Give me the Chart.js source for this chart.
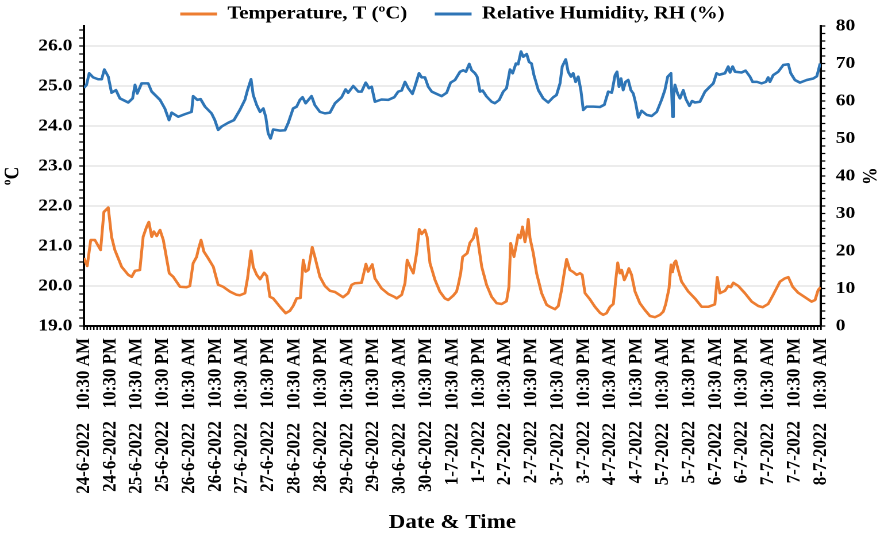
<!DOCTYPE html>
<html>
<head>
<meta charset="utf-8">
<title>Temperature and Relative Humidity</title>
<script src="https://cdn.jsdelivr.net/npm/chart.js@4.4.1/dist/chart.umd.min.js"></script>
<style>
  html, body { margin: 0; padding: 0; background: #fff; overflow: hidden; }
</style>
</head>
<body>
<!-- drawn 769 wide and stretched to 884: the original lettering is wider than it is tall -->
<canvas id="chart" width="769" height="540" style="width:884px;height:540px"></canvas>
<script>
// Logger readings, 24-6-2022 10:30 AM to 8-7-2022 10:30 AM
// x values are hours after the first reading

const tickDates = [
  '24-6-2022', '24-6-2022', '25-6-2022', '25-6-2022', '26-6-2022', '26-6-2022',
  '27-6-2022', '27-6-2022', '28-6-2022', '28-6-2022', '29-6-2022', '29-6-2022',
  '30-6-2022', '30-6-2022', '1-7-2022', '1-7-2022', '2-7-2022', '2-7-2022',
  '3-7-2022', '3-7-2022', '4-7-2022', '4-7-2022', '5-7-2022', '5-7-2022',
  '6-7-2022', '6-7-2022', '7-7-2022', '7-7-2022', '8-7-2022'
];
const tickTimes = [
  '10:30 AM', '10:30 PM', '10:30 AM', '10:30 PM', '10:30 AM', '10:30 PM',
  '10:30 AM', '10:30 PM', '10:30 AM', '10:30 PM', '10:30 AM', '10:30 PM',
  '10:30 AM', '10:30 PM', '10:30 AM', '10:30 PM', '10:30 AM', '10:30 PM',
  '10:30 AM', '10:30 PM', '10:30 AM', '10:30 PM', '10:30 AM', '10:30 PM',
  '10:30 AM', '10:30 PM', '10:30 AM', '10:30 PM', '10:30 AM'
];
const tempTicks = [19, 20, 21, 22, 23, 24, 25, 26];
const rhTicks = [0, 10, 20, 30, 40, 50, 60, 70, 80];

const tempHours = [
  0, 1.5, 3.1, 5.0, 7.6, 9.1, 11.1, 12.6, 14.1, 17.2,
  20.2, 21.8, 23.3, 25.5, 27.0, 28.6, 29.6, 30.9, 31.9, 33.2,
  34.7, 36.2, 38.9, 40.7, 43.8, 46.8, 48.3, 49.8, 51.4, 52.1,
  53.4, 54.7, 56.7, 59.0, 61.2, 63.5, 66.6, 69.6, 71.1, 73.4,
  74.6, 76.2, 77.2, 78.8, 80.3, 82.2, 83.4, 84.8, 86.3, 89.4,
  92.0, 93.9, 95.4, 97.0, 98.7, 100.0, 101.1, 102.3, 104.1, 105.3,
  107.6, 109.9, 112.2, 114.5, 118.2, 120.5, 122.1, 123.6, 126.6, 128.6,
  129.6, 131.5, 132.7, 135.7, 138.8, 141.5, 142.6, 144.9, 146.4, 147.4,
  148.7, 150.2, 151.7, 152.9, 154.0, 155.5, 156.5, 157.8, 160.1, 162.3,
  164.6, 166.1, 168.4, 169.9, 170.7, 171.8, 172.7, 174.8, 176.0, 177.5,
  178.8, 179.8, 181.4, 183.6, 185.9, 188.2, 190.5, 192.7, 193.8, 194.6,
  196.1, 197.3, 198.0, 199.0, 200.0, 201.1, 201.9, 202.6, 203.4, 204.9,
  206.4, 208.7, 211.0, 212.5, 214.8, 216.3, 217.8, 219.0, 220.1, 221.6,
  223.1, 224.7, 226.2, 227.2, 228.5, 230.7, 233.0, 235.3, 236.8, 238.3,
  239.9, 241.4, 242.5, 243.4, 244.4, 245.2, 246.4, 247.5, 248.5, 249.7,
  251.3, 253.5, 255.8, 258.1, 260.4, 262.7, 264.2, 265.3, 266.8, 267.7,
  268.4, 269.2, 269.9, 271.0, 272.5, 275.6, 278.6, 281.7, 284.7, 287.7,
  288.8, 290.0, 292.3, 293.8, 295.0, 296.1, 298.4, 301.4, 304.5, 307.5,
  309.5, 312.0, 314.3, 317.4, 319.6, 321.2, 323.2, 325.7, 328.8, 331.8,
  333.4, 334.8, 335.9
];
const tempValues = [
  20.7, 20.5, 21.15, 21.15, 20.9, 21.85, 21.96, 21.23, 20.9, 20.48,
  20.28, 20.23, 20.38, 20.4, 21.23, 21.48, 21.6, 21.23, 21.36, 21.25,
  21.4, 21.15, 20.32, 20.23, 19.98, 19.97, 20.0, 20.57, 20.73, 20.9,
  21.15, 20.86, 20.69, 20.48, 20.03, 19.98, 19.86, 19.78, 19.77, 19.82,
  20.19, 20.88, 20.48, 20.28, 20.17, 20.33, 20.25, 19.73, 19.69, 19.48,
  19.32, 19.38, 19.5, 19.69, 19.7, 20.65, 20.36, 20.4, 20.97, 20.73,
  20.23, 20.0, 19.88, 19.85, 19.72, 19.82, 20.03, 20.07, 20.08, 20.55,
  20.36, 20.54, 20.19, 19.94, 19.8, 19.73, 19.69, 19.78, 20.07, 20.65,
  20.48, 20.32, 20.82, 21.42, 21.3, 21.4, 21.23, 20.57, 20.15, 19.86,
  19.69, 19.65, 19.76, 19.86, 20.03, 20.32, 20.73, 20.82, 21.08, 21.19,
  21.44, 21.08, 20.48, 20.03, 19.73, 19.57, 19.55, 19.62, 19.98, 21.07,
  20.73, 21.07, 21.28, 21.2, 21.48, 21.1, 21.32, 21.67, 21.2, 20.82,
  20.32, 19.82, 19.53, 19.48, 19.42, 19.5, 19.9, 20.32, 20.67, 20.4,
  20.35, 20.28, 20.32, 20.28, 19.82, 19.67, 19.48, 19.33, 19.28, 19.32,
  19.48, 19.55, 20.15, 20.58, 20.32, 20.4, 20.15, 20.28, 20.44, 20.28,
  19.86, 19.57, 19.4, 19.25, 19.22, 19.28, 19.36, 19.55, 19.94, 20.53,
  20.35, 20.58, 20.63, 20.4, 20.11, 19.86, 19.69, 19.48, 19.48, 19.54,
  20.22, 19.82, 19.88, 20.0, 19.97, 20.08, 20.0, 19.82, 19.61, 19.5,
  19.47, 19.55, 19.78, 20.11, 20.19, 20.22, 19.98, 19.83, 19.72, 19.61,
  19.65, 19.9, 19.97
];

const rhHours = [
  0, 1.2, 2.4, 4.2, 6.5, 8.1, 9.3, 11.1, 12.6, 14.6,
  16.4, 20.2, 22.2, 23.3, 24.3, 26.3, 29.3, 30.9, 34.7, 36.9,
  38.8, 40.0, 43.0, 46.1, 49.1, 49.8, 51.7, 53.2, 55.2, 58.2,
  59.7, 61.2, 62.8, 65.8, 68.4, 71.1, 73.4, 74.6, 76.2, 77.2,
  78.8, 80.3, 81.8, 82.9, 84.0, 85.1, 86.3, 89.4, 91.7, 93.2,
  95.4, 97.0, 98.5, 99.7, 101.1, 103.8, 105.3, 107.6, 109.9, 112.2,
  114.5, 117.5, 119.3, 120.5, 122.8, 125.1, 126.6, 128.5, 130.0, 131.2,
  132.7, 135.7, 138.8, 141.5, 143.3, 144.9, 146.4, 147.9, 149.8, 150.9,
  152.8, 154.0, 155.5, 157.0, 158.6, 160.8, 163.1, 165.4, 167.2, 169.2,
  171.5, 173.0, 174.2, 175.7, 176.8, 178.3, 179.3, 180.6, 181.8, 183.6,
  185.9, 187.4, 189.4, 191.2, 192.7, 194.3, 195.5, 197.0, 198.0, 199.3,
  200.3, 201.9, 203.0, 204.1, 205.2, 207.2, 209.4, 211.7, 214.0, 215.5,
  217.1, 218.1, 219.7, 220.8, 222.1, 223.1, 224.2, 225.4, 226.6, 227.7,
  229.2, 232.3, 235.3, 237.3, 239.1, 240.7, 242.2, 243.1, 244.0, 244.9,
  245.9, 247.0, 248.2, 249.4, 250.5, 251.6, 252.8, 254.3, 256.6, 258.9,
  261.2, 263.4, 264.9, 266.2, 267.7, 268.4, 268.8, 269.5, 270.7, 271.8,
  273.3, 274.5, 276.1, 277.3, 278.6, 280.9, 283.2, 285.4, 287.0, 288.5,
  289.7, 292.3, 293.8, 294.6, 295.8, 296.9, 299.9, 301.7, 303.7, 304.9,
  306.9, 309.0, 311.0, 312.0, 312.8, 314.3, 316.6, 318.9, 321.2, 322.3,
  324.2, 326.5, 329.6, 332.6, 334.2, 335.7
];
const rhValues = [
  63.5, 64.3, 67.4, 66.3, 65.8, 65.8, 68.4, 66.5, 62.2, 62.9,
  60.7, 59.6, 60.7, 64.3, 62.0, 64.7, 64.7, 62.5, 60.3, 58.0,
  54.9, 56.9, 55.8, 56.5, 57.1, 61.3, 60.3, 60.5, 58.5, 56.7,
  54.9, 52.3, 53.2, 54.2, 54.9, 57.6, 60.3, 62.9, 65.8, 61.6,
  58.9, 57.1, 58.0, 55.8, 51.4, 50.0, 52.4, 52.1, 52.2, 54.2,
  58.0, 58.5, 60.3, 61.0, 59.4, 61.3, 58.9, 57.1, 56.7, 56.9,
  59.4, 61.0, 63.1, 62.2, 64.0, 62.5, 62.5, 64.9, 63.4, 63.8,
  59.8, 60.4, 60.3, 61.0, 62.5, 62.8, 65.1, 63.4, 61.9, 63.8,
  67.4, 66.3, 66.3, 63.8, 62.5, 61.9, 61.3, 62.2, 64.9, 65.6,
  67.8, 68.2, 67.8, 69.9, 68.2, 67.4, 66.5, 62.5, 62.8, 61.2,
  59.8, 59.4, 60.3, 62.5, 63.4, 68.4, 67.4, 70.0, 69.8, 73.2,
  71.8, 72.5, 70.4, 70.0, 66.9, 62.9, 60.7, 59.6, 61.0, 61.6,
  64.7, 69.2, 71.1, 67.8, 66.5, 67.4, 65.1, 66.5, 62.9, 57.6,
  58.5, 58.5, 58.4, 59.0, 62.5, 62.2, 66.9, 67.8, 63.8, 66.0,
  62.9, 65.1, 65.6, 62.9, 62.0, 59.4, 55.6, 57.4, 56.3, 56.0,
  57.1, 60.3, 62.9, 66.5, 67.4, 55.8, 61.0, 64.3, 62.0, 60.7,
  62.9, 60.5, 58.7, 60.0, 59.6, 59.8, 62.5, 63.8, 64.7, 67.4,
  67.0, 67.4, 69.2, 67.6, 69.2, 67.8, 67.6, 68.1, 66.5, 65.1,
  65.1, 64.7, 65.1, 66.3, 65.1, 66.9, 67.8, 69.6, 69.8, 67.4,
  65.6, 64.9, 65.6, 66.0, 66.6, 70.0
];

const HOURS_PER_TICK = 12;
const TOTAL_HOURS = 336;

const ORANGE = '#ED7D31';
const BLUE = '#2E75B6';
const SERIF = "'Liberation Serif', 'Times New Roman', serif";

Chart.defaults.font.family = SERIF;
Chart.defaults.font.weight = 'bold';
Chart.defaults.font.size = 17;
Chart.defaults.color = '#000';

const LEGEND_PAD = 24;
const LEGEND_FONT = 18;

/**
 * Small tick marks between the labelled ones, on all three axes
 */
const minorTicks = {
  id: 'minorTicks',
  afterDraw(chart) {
    const { ctx, scales: { x, y, y1 } } = chart;
    ctx.save();
    ctx.strokeStyle = '#000';
    ctx.lineWidth = 1.3;
    ctx.beginPath();
    for (let h = 0; h <= TOTAL_HOURS; h += 1.5) {
      const px = x.getPixelForValue(h);
      ctx.moveTo(px, x.top);
      ctx.lineTo(px, x.top + 4);
    }
    for (let t = 19; t <= 26.45; t += 0.2) {
      const py = y.getPixelForValue(t);
      ctx.moveTo(y.right, py);
      ctx.lineTo(y.right - 4, py);
    }
    for (let r = 0; r <= 80; r += 2) {
      const py = y1.getPixelForValue(r);
      ctx.moveTo(y1.left, py);
      ctx.lineTo(y1.left + 4, py);
    }
    ctx.stroke();
    ctx.restore();
  }
};

/**
 * Legend row sits tight above the plot and a bit right of the canvas centre
 */
const legendPlacement = {
  id: 'legendPlacement',
  afterLayout(chart) {
    const legend = chart.legend;
    legend.top = 14 - LEGEND_PAD - LEGEND_FONT / 2;
    legend.left += 9;
    legend.right += 9;
  }
};

new Chart(document.getElementById('chart'), {
  type: 'line',
  data: {
    datasets: [{
      label: 'Temperature, T (ºC)',
      data: tempHours.map((h, i) => ({ x: h, y: tempValues[i] })),
      borderColor: ORANGE,
      backgroundColor: ORANGE,
      borderWidth: 2.5,
      pointRadius: 0,
      tension: 0,
      borderJoinStyle: 'round',
      yAxisID: 'y'
    }, {
      label: 'Relative Humidity, RH (%)',
      data: rhHours.map((h, i) => ({ x: h, y: rhValues[i] })),
      borderColor: BLUE,
      backgroundColor: BLUE,
      borderWidth: 2.5,
      pointRadius: 0,
      tension: 0,
      borderJoinStyle: 'round',
      yAxisID: 'y1'
    }]
  },
  options: {
    responsive: false,
    animation: false,
    devicePixelRatio: 2,
    layout: { padding: 0 },
    plugins: {
      tooltip: { enabled: false },
      legend: {
        position: 'top',
        maxHeight: 26,
        labels: {
          boxWidth: 32,
          boxHeight: 3,
          padding: LEGEND_PAD,
          color: '#000',
          font: { size: LEGEND_FONT, weight: 'bold', family: SERIF },
          generateLabels(chart) {
            return Chart.defaults.plugins.legend.labels.generateLabels(chart)
              .map(item => ({ ...item, lineWidth: 0 }));
          }
        }
      }
    },
    scales: {
      x: {
        type: 'linear',
        min: 0,
        max: TOTAL_HOURS,
        afterBuildTicks: (scale) => {
          scale.ticks = tickDates.map((d, i) => ({ value: i * HOURS_PER_TICK }));
        },
        afterFit: (scale) => { scale.height = 214; },
        grid: {
          drawOnChartArea: false,
          tickLength: 4,
          tickColor: '#000',
          lineWidth: 1.3
        },
        border: { color: '#000', width: 2 },
        ticks: {
          autoSkip: false,
          minRotation: 90,
          maxRotation: 90,
          padding: 8,
          font: { size: 17 },
          callback: (value) => {
            const i = Math.round(value / HOURS_PER_TICK);
            return tickDates[i] + '\u00a0\u00a0\u00a0' + tickTimes[i];
          }
        },
        title: {
          display: true,
          text: 'Date & Time',
          font: { size: 20, weight: 'bold' },
          padding: { top: 0, bottom: 5 }
        }
      },
      y: {
        position: 'left',
        min: 19,
        max: 26.5,
        afterBuildTicks: (scale) => {
          scale.ticks = tempTicks.map(v => ({ value: v }));
        },
        afterFit: (scale) => { scale.width = 73; },
        grid: {
          color: '#d9d9d9',
          lineWidth: 1,
          tickLength: 4,
          tickColor: '#000'
        },
        border: { color: '#000', width: 2 },
        ticks: {
          padding: 6,
          font: { size: 17 },
          callback: (v) => v.toFixed(1)
        },
        title: {
          display: true,
          text: 'ºC',
          font: { size: 17.5, weight: 'bold' },
          padding: { top: 1, bottom: 0 }
        }
      },
      y1: {
        position: 'right',
        min: 0,
        max: 80,
        afterBuildTicks: (scale) => {
          scale.ticks = rhTicks.map(v => ({ value: v }));
        },
        afterFit: (scale) => { scale.width = 55; },
        grid: {
          drawOnChartArea: false,
          tickLength: 4,
          tickColor: '#000'
        },
        border: { color: '#000', width: 2 },
        ticks: {
          padding: 9,
          font: { size: 17 }
        },
        title: {
          display: true,
          text: '%',
          font: { size: 17.5, weight: 'bold' },
          padding: { top: 3.5, bottom: 0 }
        }
      }
    }
  },
  plugins: [minorTicks, legendPlacement]
});
</script>
</body>
</html>
